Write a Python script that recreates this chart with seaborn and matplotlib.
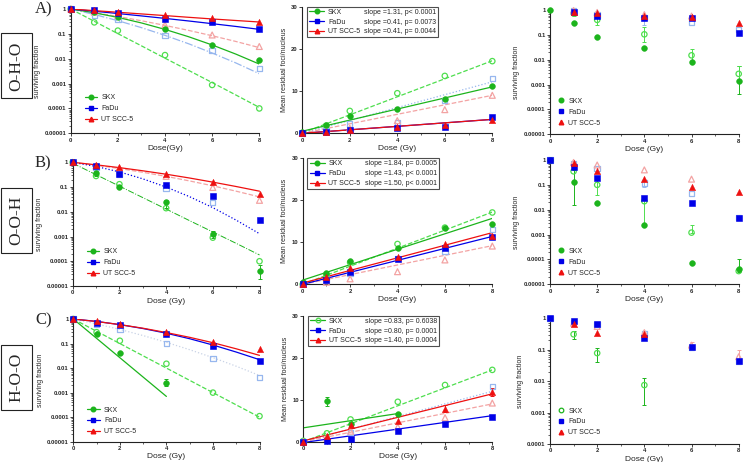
import numpy as np
import pandas as pd
import matplotlib
matplotlib.use("Agg")
import matplotlib.pyplot as plt
import seaborn as sns
from matplotlib.lines import Line2D
from matplotlib.ticker import LogLocator, NullFormatter, MultipleLocator

sns.set_theme(style="ticks")
plt.rcParams['font.family'] = ['Liberation Sans', 'DejaVu Sans']

nan = np.nan

# ---------------- data ----------------
doses = [0, 1, 2, 4, 6, 8]
fit_doses = [0, 1, 2, 3, 4, 5, 6, 7, 8]
lin_x = [0, 8]
cell_lines = ["SKX", "FaDu", "UT SCC-5"]
surv_ticks = [1, 0.1, 0.01, 0.001, 0.0001, 0.00001]
surv_labels = ["1", "0.1", "0.01", "0.001", "0.0001", "0.00001"]
foci_ticks = [0, 10, 20, 30]
dose_ticks = [0, 2, 4, 6, 8]
row_names = ["O-H-O", "O-O-H", "H-O-O"]
panel_letters = ["A)", "B)", "C)"]

# Row A, survival (left)
A1_skx = [1, 0.75, 0.46, 0.16, 0.036, 0.009]
A1_skx_o = [1, 0.29, 0.135, 0.014, 0.00088, 0.0001]
A1_fadu = [1, 0.88, 0.67, 0.40, 0.29, 0.157]
A1_fadu_o = [1, 0.57, 0.38, 0.087, 0.022, 0.004]
A1_ut = [1, 0.9, 0.78, 0.56, 0.42, 0.31]
A1_ut_o = [1, 0.75, 0.54, 0.23, 0.09, 0.031]
A1_fit_skx = [1, 0.706, 0.459, 0.275, 0.151, 0.0767, 0.0358, 0.0154, 0.0061]
A1_fit_skx_o = [1, 0.32, 0.102, 0.033, 0.0105, 0.0034, 0.0011, 0.00035, 0.00011]
A1_fit_fadu = [1, 0.815, 0.658, 0.527, 0.419, 0.33, 0.257, 0.199, 0.152]
A1_fit_fadu_o = [1, 0.603, 0.339, 0.178, 0.087, 0.040, 0.017, 0.0068, 0.0025]
A1_fit_ut = [1, 0.86, 0.74, 0.634, 0.543, 0.464, 0.398, 0.345, 0.30]
A1_fit_ut_o = [1, 0.72, 0.50, 0.337, 0.219, 0.138, 0.084, 0.0496, 0.028]

# Row B, survival (left)
B1_skx = [1, 0.36, 0.096, 0.024, 0.0013, 0.00004]
B1_skx_lo = [nan, 0.28, nan, 0.014, 0.0009, 0.00002]
B1_skx_hi = [nan, 0.45, nan, 0.03, 0.0017, 0.00007]
B1_skx_o = [1, 0.28, 0.13, 0.014, 0.0009, 0.0001]
B1_fadu = [1, 0.73, 0.34, 0.12, 0.044, 0.0046]
B1_fadu_o = [1, 0.63, 0.34, 0.09, 0.024, nan]
B1_ut = [1, 0.78, 0.63, 0.34, 0.155, 0.051]
B1_ut_o = [1, 0.72, 0.56, 0.27, 0.096, 0.029]
B1_fit_skx = [0.92, 0.316, 0.109, 0.0375, 0.0129, 0.0044, 0.00153, 0.00053, 0.00018]
B1_fit_fadu = [1, 0.68, 0.41, 0.215, 0.1, 0.041, 0.0147, 0.0046, 0.0013]
B1_fit_ut = [1, 0.79, 0.61, 0.454, 0.33, 0.232, 0.158, 0.105, 0.068]
B1_fit_ut_o = [1, 0.76, 0.56, 0.395, 0.27, 0.177, 0.112, 0.068, 0.040]

# Row C, survival (left)
C1_skx = [1, 0.25, 0.043, 0.0025, nan, nan]
C1_skx_lo = [nan, nan, nan, 0.0018, nan, nan]
C1_skx_hi = [nan, nan, nan, 0.0035, nan, nan]
C1_skx_o = [1, 0.29, 0.13, 0.015, 0.001, 0.00011]
C1_fadu = [1, 0.71, 0.57, 0.25, 0.076, 0.019]
C1_fadu_o = [1, 0.6, 0.38, 0.1, 0.024, 0.0041]
C1_ut = [1, 0.85, 0.6, 0.3, 0.12, 0.061]
C1_fit_skx_x = [0, 1, 2, 3, 4]
C1_fit_skx = [1, 0.163, 0.0265, 0.0043, 0.0007]
C1_fit_skx_o = [1, 0.316, 0.1, 0.0316, 0.01, 0.00316, 0.001, 0.000316, 0.0001]
C1_fit_fadu = [1, 0.797, 0.59, 0.408, 0.263, 0.157, 0.087, 0.045, 0.022]
C1_fit_fadu_o = [1, 0.63, 0.376, 0.211, 0.112, 0.056, 0.0266, 0.0119, 0.005]
C1_fit_ut = [1, 0.79, 0.59, 0.42, 0.28, 0.179, 0.108, 0.061, 0.033]

# Foci (middle column)
A2_skx = [0.3, 2.0, 4.0, 5.8, 8.2, 11.1]
A2_skx_o = [0, 1.8, 5.3, 9.5, 13.6, 17.1]
A2_fadu = [0, 0.3, 0.8, 1.3, 1.5, 3.9]
A2_fadu_o = [0, 0.6, 2.2, 2.5, 7.8, 13.0]
A2_ut = [0, 0.2, 0.8, 1.5, 1.9, 3.1]
A2_ut_o = [0, 0.4, 1.2, 3.0, 5.6, 9.0]
A2_fit_skx = [0.5, 11.0]
A2_fit_skx_o = [0.1, 17.2]
A2_fit_fadu = [0, 3.3]
A2_fit_fadu_o = [0, 12.2]
A2_fit_ut = [0, 3.3]
A2_fit_ut_o = [0, 9.0]
A2_slopes = ["slope =1.31, p< 0.0001", "slope =0.41, p= 0.0073", "slope =0.41, p= 0.0044"]

B2_skx = [0.5, 2.8, 5.5, 8.7, 13.5, 14.4]
B2_skx_o = [0, 2.2, 5.2, 9.6, 13.5, 17.1]
B2_fadu = [0, 1.0, 3.0, 6.0, 8.7, 11.2]
B2_fadu_o = [0, 1.0, 2.5, 6.2, 7.8, 13.0]
B2_ut = [0, 1.7, 3.8, 6.6, 9.5, 11.6]
B2_ut_o = [0, 0.5, 1.3, 3.0, 5.8, 9.1]
B2_fit_skx = [1.0, 15.7]
B2_fit_skx_o = [0, 17.2]
B2_fit_fadu = [0, 11.4]
B2_fit_ut = [0.3, 12.3]
B2_fit_ut_o = [0, 9.2]
B2_slopes = ["slope =1.84, p= 0.0005", "slope =1.43, p< 0.0001", "slope =1.50, p< 0.0001"]

C2_skx = [nan, 9.6, 4.2, 6.5, nan, nan]
C2_skx_lo = [nan, 8.6, nan, nan, nan, nan]
C2_skx_hi = [nan, 10.7, nan, nan, nan, nan]
C2_skx_o = [0.2, 2.0, 5.3, 9.5, 13.5, 17.1]
C2_fadu = [0, 0.2, 0.6, 2.6, 4.2, 6.0]
C2_fadu_o = [0, nan, 2.2, nan, nan, 13.1]
C2_ut = [0, 1.4, 4.0, 5.0, 7.8, 11.8]
C2_ut_lo = [nan, nan, nan, nan, 7.0, 11.0]
C2_ut_hi = [nan, nan, nan, nan, 8.7, 12.8]
C2_ut_o = [0, 0.8, 2.5, 3.5, 5.7, 9.2]
C2_fit_skx_x = [0, 4]
C2_fit_skx = [3.3, 6.7]
C2_fit_skx_o = [0, 17.1]
C2_fit_fadu = [-0.2, 6.2]
C2_fit_fadu_o = [0, 12.0]
C2_fit_ut = [0.2, 11.4]
C2_fit_ut_o = [0, 9.0]
C2_slopes = ["slope =0.83, p= 0.6038", "slope =0.80, p= 0.0001", "slope =1.40, p= 0.0004"]

# Survival (right column)
A3_skx = [1, 0.29, 0.085, 0.031, 0.0079, 0.0014]
A3_skx_lo = [nan, nan, nan, nan, nan, 0.0004]
A3_skx_hi = [nan, nan, nan, nan, nan, 0.0055]
A3_skx_o = [nan, 0.73, 0.4, 0.105, 0.015, 0.0027]
A3_skx_o_lo = [nan, 0.55, 0.25, 0.05, 0.009, 0.0015]
A3_skx_o_hi = [nan, 0.9, 0.62, 0.2, 0.026, 0.0055]
A3_fadu = [nan, 0.8, 0.57, 0.46, 0.46, 0.12]
A3_fadu_o = [nan, 0.9, 0.63, 0.5, 0.31, 0.16]
A3_fadu_o_lo = [nan, nan, nan, 0.25, nan, nan]
A3_fadu_o_hi = [nan, nan, nan, 0.6, nan, nan]
A3_ut = [nan, 0.85, 0.73, 0.6, 0.54, 0.29]
A3_ut_o = [nan, 0.95, 0.8, 0.65, 0.57, nan]

B3_skx = [1, 0.13, 0.018, 0.0024, 0.000075, 0.00004]
B3_skx_lo = [nan, 0.016, nan, nan, nan, 0.00003]
B3_skx_hi = [nan, 0.4, nan, nan, nan, 0.0001]
B3_skx_o = [nan, 0.35, 0.1, 0.022, 0.0012, 0.000034]
B3_skx_o_lo = [nan, nan, 0.04, 0.0024, nan, nan]
B3_skx_o_hi = [nan, nan, 0.2, 0.035, 0.0024, nan]
B3_fadu = [1, 0.5, 0.19, 0.031, 0.018, 0.0048]
B3_fadu_o = [1, 0.73, 0.46, 0.12, 0.046, 0.0048]
B3_fadu_o_lo = [nan, nan, nan, 0.08, nan, nan]
B3_fadu_o_hi = [nan, nan, nan, 0.16, nan, nan]
B3_ut = [nan, 0.73, 0.36, 0.18, 0.08, 0.053]
B3_ut_o = [nan, 0.8, 0.63, 0.4, 0.17, nan]

C3_skx_o = [nan, 0.31, 0.078, 0.0075, nan, nan]
C3_skx_o_lo = [nan, 0.22, 0.04, 0.0017, nan, nan]
C3_skx_o_hi = [nan, 0.4, 0.11, 0.013, nan, nan]
C3_fadu = [1, 0.84, 0.64, 0.24, 0.12, 0.043]
C3_fadu_o = [1, 0.72, 0.64, 0.33, 0.12, 0.043]
C3_ut = [nan, 0.64, 0.33, 0.31, nan, nan]
C3_ut_o = [nan, 0.7, 0.55, 0.35, 0.14, 0.06]
C3_ut_o_lo = [nan, nan, nan, nan, 0.12, 0.045]
C3_ut_o_hi = [nan, nan, nan, nan, 0.18, 0.1]

# ---------------- styling ----------------
DARK = {"SKX": "#1cb41c", "FaDu": "#0000e8", "UT SCC-5": "#ee1010"}
LIGHT = {"SKX": "#4ede4e", "FaDu": "#97b7ee", "UT SCC-5": "#f3a3a3"}
MARK = {"SKX": "o", "FaDu": "s", "UT SCC-5": "^"}
SIZE = {"SKX": 17, "FaDu": 17, "UT SCC-5": 20}

W, H = 743, 462
fig = plt.figure(figsize=(W / 100, H / 100), dpi=100)


def rect(l, t, r, b):
    return [l / W, 1 - b / H, (r - l) / W, (b - t) / H]


def pts(ax, y, cell, filled, z=4):
    df = pd.DataFrame({"dose": doses, "val": y}).dropna()
    if filled:
        sns.scatterplot(data=df, x="dose", y="val", ax=ax, marker=MARK[cell], s=SIZE[cell],
                        color=DARK[cell], edgecolor=DARK[cell], linewidth=0.4,
                        zorder=z + 1, clip_on=False, legend=False)
    else:
        sns.scatterplot(data=df, x="dose", y="val", ax=ax, marker=MARK[cell], s=SIZE[cell] - 2,
                        color=LIGHT[cell], facecolor="none", edgecolor=LIGHT[cell], linewidth=0.9,
                        zorder=z, clip_on=False, legend=False)


def errs(ax, y, lo, hi, color):
    x = np.array(doses, float)
    y = np.array(y, float)
    lo = np.array(lo, float)
    hi = np.array(hi, float)
    m = ~(np.isnan(lo) & np.isnan(hi)) & ~np.isnan(y)
    lo2 = np.where(np.isnan(lo), y, lo)
    hi2 = np.where(np.isnan(hi), y, hi)
    ax.errorbar(x[m], y[m], yerr=[y[m] - lo2[m], hi2[m] - y[m]], fmt="none", ecolor=color,
                elinewidth=0.7, capsize=1.6, capthick=0.7, zorder=3, clip_on=False)


def fit(ax, x, y, color, ls, lw=0.9):
    sns.lineplot(x=x, y=y, ax=ax, color=color, linestyle=ls, linewidth=lw, errorbar=None,
                 zorder=2, sort=False)


def style_axes(ax, log, xlabel, ylabel, ylim):
    ax.set_xlim(0, 8)
    if log:
        ax.set_yscale("log")
        ax.set_ylim(*ylim)
        ticks = [t for t in surv_ticks if ylim[0] <= t <= ylim[1]]
        labels = [l for t, l in zip(surv_ticks, surv_labels) if ylim[0] <= t <= ylim[1]]
        ax.set_yticks(ticks, labels)
        ax.yaxis.set_minor_locator(LogLocator(base=10, subs=np.arange(2, 10)))
        ax.yaxis.set_minor_formatter(NullFormatter())
    else:
        ax.set_ylim(0, 30)
        ax.set_yticks(foci_ticks, [str(t) for t in foci_ticks])
    ax.set_xticks(dose_ticks, [str(t) for t in dose_ticks])
    ax.xaxis.set_minor_locator(MultipleLocator(1))
    sns.despine(ax=ax)
    for s in ["left", "bottom"]:
        ax.spines[s].set_linewidth(0.8)
        ax.spines[s].set_color("#222222")
    ax.tick_params(which="major", length=2.2, width=0.6, labelsize=4.2, pad=1, color="#222222")
    ax.tick_params(which="minor", length=1.2, width=0.5, color="#222222")
    for lab in ax.get_xticklabels() + ax.get_yticklabels():
        lab.set_fontweight("bold")
    ax.set_xlabel(xlabel, fontsize=6, labelpad=1.5)
    ax.set_ylabel(ylabel, fontsize=5, labelpad=2.5)
    ax.set_facecolor("white")


def legend_left(ax, bbox, line=True):
    hs = []
    for c in cell_lines:
        hs.append(Line2D([], [], color=DARK[c], marker=MARK[c], markersize=3.3,
                         lw=0.9 if line else 0))
    ax.legend(hs, cell_lines, loc="lower left", bbox_to_anchor=bbox, frameon=False, fontsize=5,
              handlelength=1.8 if line else 0.8, handletextpad=0.6, labelspacing=0.55,
              borderaxespad=0)


def legend_foci(ax, slopes, open_skx=False):
    hs = []
    for c in cell_lines:
        if c == "SKX" and open_skx:
            hs.append(Line2D([], [], color=DARK[c], marker="o", markersize=3.3, lw=0.9,
                             markerfacecolor="none", markeredgecolor=LIGHT[c]))
        else:
            hs.append(Line2D([], [], color=DARK[c], marker=MARK[c], markersize=3.3, lw=0.9))
    blanks = [Line2D([], [], alpha=0) for _ in slopes]
    leg = ax.legend(hs + blanks, cell_lines + slopes, loc="upper left", bbox_to_anchor=(0.025, 1.0),
                    ncol=2, fontsize=5, handlelength=2.2, handletextpad=0.5, columnspacing=-2.1,
                    labelspacing=0.4, borderpad=0.3, borderaxespad=0, frameon=True, fancybox=False)
    leg.get_frame().set_edgecolor("#222222")
    leg.get_frame().set_linewidth(0.8)


# ---------- Row A ----------
ax = fig.add_axes(rect(70.7, 9, 259.3, 133.3))
fit(ax, fit_doses, A1_fit_skx_o, LIGHT["SKX"], "--")
fit(ax, fit_doses, A1_fit_fadu_o, LIGHT["FaDu"], "-.")
fit(ax, fit_doses, A1_fit_ut_o, LIGHT["UT SCC-5"], "--")
fit(ax, fit_doses, A1_fit_skx, DARK["SKX"], "-")
fit(ax, fit_doses, A1_fit_fadu, DARK["FaDu"], "-")
fit(ax, fit_doses, A1_fit_ut, DARK["UT SCC-5"], "-")
for y, c in [(A1_skx_o, "SKX"), (A1_fadu_o, "FaDu"), (A1_ut_o, "UT SCC-5")]:
    pts(ax, y, c, False)
for y, c in [(A1_skx, "SKX"), (A1_fadu, "FaDu"), (A1_ut, "UT SCC-5")]:
    pts(ax, y, c, True)
style_axes(ax, True, "Dose(Gy)", "surviving fraction", (1e-5, 1))
legend_left(ax, (0.06, 0.06))

ax = fig.add_axes(rect(302.3, 6.7, 492.3, 133.3))
fit(ax, lin_x, A2_fit_skx_o, LIGHT["SKX"], "--")
fit(ax, lin_x, A2_fit_fadu_o, LIGHT["FaDu"], ":")
fit(ax, lin_x, A2_fit_ut_o, LIGHT["UT SCC-5"], "--")
fit(ax, lin_x, A2_fit_skx, DARK["SKX"], "-")
fit(ax, lin_x, A2_fit_fadu, DARK["FaDu"], "-")
fit(ax, lin_x, A2_fit_ut, DARK["UT SCC-5"], "-")
for y, c in [(A2_skx_o, "SKX"), (A2_fadu_o, "FaDu"), (A2_ut_o, "UT SCC-5")]:
    pts(ax, y, c, False)
for y, c in [(A2_skx, "SKX"), (A2_fadu, "FaDu"), (A2_ut, "UT SCC-5")]:
    pts(ax, y, c, True)
style_axes(ax, False, "Dose (Gy)", "Mean residual foci/nucleus", None)
legend_foci(ax, A2_slopes)

ax = fig.add_axes(rect(550, 10, 738.7, 134.3))
errs(ax, A3_skx, A3_skx_lo, A3_skx_hi, DARK["SKX"])
errs(ax, A3_skx_o, A3_skx_o_lo, A3_skx_o_hi, LIGHT["SKX"])
errs(ax, A3_fadu_o, A3_fadu_o_lo, A3_fadu_o_hi, LIGHT["FaDu"])
for y, c in [(A3_skx_o, "SKX"), (A3_fadu_o, "FaDu"), (A3_ut_o, "UT SCC-5")]:
    pts(ax, y, c, False)
for y, c in [(A3_skx, "SKX"), (A3_fadu, "FaDu"), (A3_ut, "UT SCC-5")]:
    pts(ax, y, c, True)
style_axes(ax, True, "Dose (Gy)", "surviving fraction", (1e-5, 1))
legend_left(ax, (0.03, 0.04), line=False)

# ---------- Row B ----------
ax = fig.add_axes(rect(72.7, 162.3, 259.5, 286))
fit(ax, fit_doses, B1_fit_ut_o, LIGHT["UT SCC-5"], "--")
fit(ax, fit_doses, B1_fit_skx, DARK["SKX"], "-.", 0.7)
fit(ax, fit_doses, B1_fit_fadu, DARK["FaDu"], ":", 0.9)
fit(ax, fit_doses, B1_fit_ut, DARK["UT SCC-5"], "-")
errs(ax, B1_skx, B1_skx_lo, B1_skx_hi, DARK["SKX"])
for y, c in [(B1_skx_o, "SKX"), (B1_fadu_o, "FaDu"), (B1_ut_o, "UT SCC-5")]:
    pts(ax, y, c, False)
for y, c in [(B1_skx, "SKX"), (B1_fadu, "FaDu"), (B1_ut, "UT SCC-5")]:
    pts(ax, y, c, True)
style_axes(ax, True, "Dose (Gy)", "surviving fraction", (1e-5, 1))
legend_left(ax, (0.06, 0.05))

ax = fig.add_axes(rect(302.7, 158.3, 492.3, 284.3))
fit(ax, lin_x, B2_fit_skx_o, LIGHT["SKX"], "--")
fit(ax, lin_x, B2_fit_ut_o, LIGHT["UT SCC-5"], "--")
fit(ax, lin_x, B2_fit_skx, DARK["SKX"], "-")
fit(ax, lin_x, B2_fit_fadu, DARK["FaDu"], "-")
fit(ax, lin_x, B2_fit_ut, DARK["UT SCC-5"], "-")
for y, c in [(B2_skx_o, "SKX"), (B2_fadu_o, "FaDu"), (B2_ut_o, "UT SCC-5")]:
    pts(ax, y, c, False)
for y, c in [(B2_skx, "SKX"), (B2_fadu, "FaDu"), (B2_ut, "UT SCC-5")]:
    pts(ax, y, c, True)
style_axes(ax, False, "Dose (Gy)", "Mean residual foci/nucleus", None)
legend_foci(ax, B2_slopes)

ax = fig.add_axes(rect(550, 160, 738.7, 284.3))
errs(ax, B3_skx, B3_skx_lo, B3_skx_hi, DARK["SKX"])
errs(ax, B3_skx_o, B3_skx_o_lo, B3_skx_o_hi, LIGHT["SKX"])
errs(ax, B3_fadu_o, B3_fadu_o_lo, B3_fadu_o_hi, LIGHT["FaDu"])
for y, c in [(B3_skx_o, "SKX"), (B3_fadu_o, "FaDu"), (B3_ut_o, "UT SCC-5")]:
    pts(ax, y, c, False)
for y, c in [(B3_skx, "SKX"), (B3_fadu, "FaDu"), (B3_ut, "UT SCC-5")]:
    pts(ax, y, c, True)
style_axes(ax, True, "Dose (Gy)", "surviving fraction", (1e-5, 1))
legend_left(ax, (0.03, 0.04), line=False)

# ---------- Row C ----------
ax = fig.add_axes(rect(73.3, 319, 259.5, 441.7))
fit(ax, fit_doses, C1_fit_fadu_o, "#c9d3e6", ":")
fit(ax, fit_doses, C1_fit_skx_o, LIGHT["SKX"], "--")
fit(ax, C1_fit_skx_x, C1_fit_skx, DARK["SKX"], "-")
fit(ax, fit_doses, C1_fit_fadu, DARK["FaDu"], "-")
fit(ax, fit_doses, C1_fit_ut, DARK["UT SCC-5"], "-")
errs(ax, C1_skx, C1_skx_lo, C1_skx_hi, DARK["SKX"])
for y, c in [(C1_skx_o, "SKX"), (C1_fadu_o, "FaDu")]:
    pts(ax, y, c, False)
for y, c in [(C1_skx, "SKX"), (C1_fadu, "FaDu"), (C1_ut, "UT SCC-5")]:
    pts(ax, y, c, True)
style_axes(ax, True, "Dose (Gy)", "surviving fraction", (1e-5, 1))
legend_left(ax, (0.06, 0.03))

ax = fig.add_axes(rect(303.3, 315.7, 492.3, 441.7))
fit(ax, lin_x, C2_fit_skx_o, LIGHT["SKX"], "--")
fit(ax, lin_x, C2_fit_fadu_o, LIGHT["FaDu"], ":")
fit(ax, lin_x, C2_fit_ut_o, LIGHT["UT SCC-5"], "--")
fit(ax, C2_fit_skx_x, C2_fit_skx, DARK["SKX"], "-")
fit(ax, lin_x, C2_fit_fadu, DARK["FaDu"], "-")
fit(ax, lin_x, C2_fit_ut, DARK["UT SCC-5"], "-")
errs(ax, C2_skx, C2_skx_lo, C2_skx_hi, DARK["SKX"])
errs(ax, C2_ut, C2_ut_lo, C2_ut_hi, DARK["UT SCC-5"])
for y, c in [(C2_skx_o, "SKX"), (C2_fadu_o, "FaDu"), (C2_ut_o, "UT SCC-5")]:
    pts(ax, y, c, False)
for y, c in [(C2_skx, "SKX"), (C2_fadu, "FaDu"), (C2_ut, "UT SCC-5")]:
    pts(ax, y, c, True)
style_axes(ax, False, "Dose (Gy)", "Mean residual foci/nucleus", None)
legend_foci(ax, C2_slopes, open_skx=True)

ax = fig.add_axes(rect(550, 318.3, 738.7, 444))
errs(ax, C3_skx_o, C3_skx_o_lo, C3_skx_o_hi, DARK["SKX"])
errs(ax, C3_ut_o, C3_ut_o_lo, C3_ut_o_hi, LIGHT["UT SCC-5"])
for y, c in [(C3_skx_o, "SKX"), (C3_fadu_o, "FaDu"), (C3_ut_o, "UT SCC-5")]:
    pts(ax, y, c, False)
for y, c in [(C3_fadu, "FaDu"), (C3_ut, "UT SCC-5")]:
    pts(ax, y, c, True)
style_axes(ax, True, "Dose (Gy)", "surviving fraction", (1e-4, 1))
hs = [Line2D([], [], lw=0, marker="o", markersize=3.3, markerfacecolor="none",
             markeredgecolor=DARK["SKX"], markeredgewidth=0.9),
      Line2D([], [], lw=0, marker="s", markersize=3.3, color=DARK["FaDu"]),
      Line2D([], [], lw=0, marker="^", markersize=3.3, color=DARK["UT SCC-5"])]
ax.legend(hs, cell_lines, loc="lower left", bbox_to_anchor=(0.03, 0.04), frameon=False, fontsize=5,
          handlelength=0.8, handletextpad=0.6, labelspacing=0.55, borderaxespad=0)

# ---------- row labels ----------
for name, letter, yc, yl in zip(row_names, panel_letters, [66, 220, 377], [9, 163, 320]):
    fig.text(16.5 / W, 1 - yc / H, name, rotation=90, ha="center", va="center", fontsize=12.5,
             family=["Liberation Serif", "DejaVu Serif"],
             bbox=dict(boxstyle="square,pad=0.45", fc="white", ec="#222222", lw=0.8))
    fig.text(35 / W, 1 - yl / H, letter, ha="left", va="center", fontsize=12,
             family=["Liberation Serif", "DejaVu Serif"])

fig.savefig("out.png", dpi=100, facecolor="white")
